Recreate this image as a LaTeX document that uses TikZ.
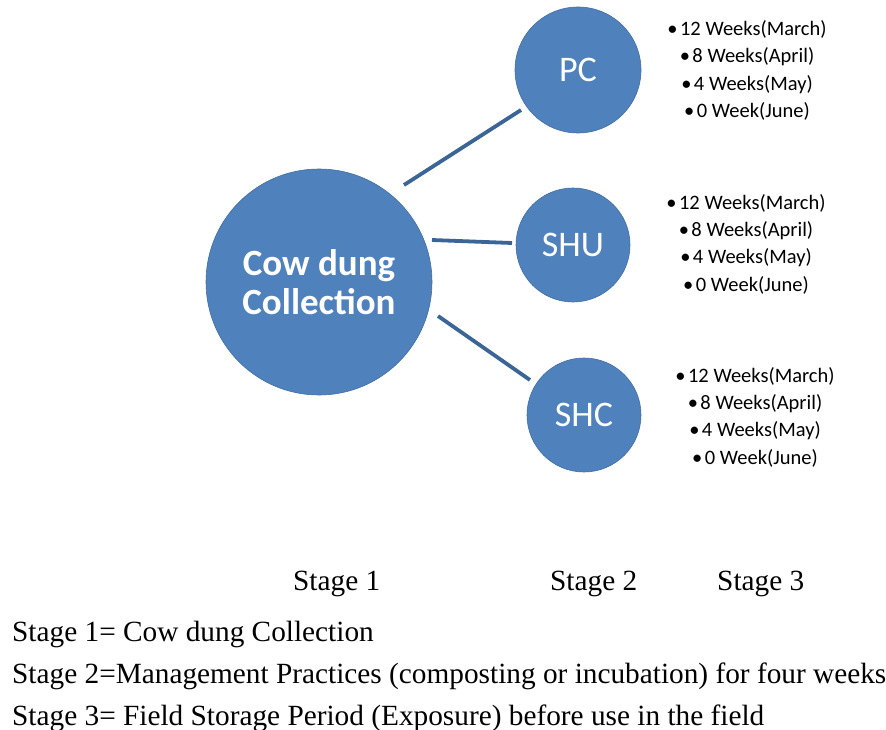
\documentclass[tikz,border=0pt]{standalone}
\usepackage{fontspec}
\setmainfont{Liberation Serif}
\newfontfamily\calib{Carlito}
\definecolor{cblue}{HTML}{4F81BD}
\definecolor{lblue}{HTML}{3B6596}
\newcommand{\bl}{•\kern0.12em}
\begin{document}
\begin{tikzpicture}[x=1pt,y=-1pt,
  bub/.style={circle,fill=cblue,draw=cblue!85!black,line width=0.6pt,inner sep=0pt,text=white,font=\calib\fontsize{36}{38}\selectfont},
  link/.style={draw=lblue,line width=3.8pt},
  lst/.style={align=center,font=\calib\fontsize{20.5}{27.3}\selectfont,inner sep=0pt},
  captxt/.style={anchor=base west,font=\fontsize{29.3}{32}\selectfont,inner sep=0pt}]
\useasboundingbox (0,0) rectangle (886,730);
\node[bub,minimum size=226pt,font=\calib\bfseries\fontsize{37}{39}\selectfont,align=center] (cow) at (319,282) {Cow dung\\Collection};
\node[bub,minimum size=126pt] (pc) at (578,70) {PC};
\node[bub,minimum size=114pt] (shu) at (573,245) {SHU};
\node[bub,minimum size=114pt] (shc) at (584,415) {SHC};
\coordinate (a1) at (404,185); \coordinate (a2) at (521,110);
\coordinate (b1) at (432,240); \coordinate (b2) at (512,243);
\coordinate (c1) at (438,316); \coordinate (c2) at (530,380);
\draw[link] (a1) -- (a2);
\draw[link] (b1) -- (b2);
\draw[link] (c1) -- (c2);
\node[lst] (l1) at (747,70.5) {\bl12 Weeks(March)\\\bl8 Weeks(April)\\\bl4 Weeks(May)\\\bl0 Week(June)};
\node[lst] (l2) at (746,244) {\bl12 Weeks(March)\\\bl8 Weeks(April)\\\bl4 Weeks(May)\\\bl0 Week(June)};
\node[lst] (l3) at (755,417) {\bl12 Weeks(March)\\\bl8 Weeks(April)\\\bl4 Weeks(May)\\\bl0 Week(June)};
\node[captxt] (s1) at (293,590) {Stage 1};
\node[captxt] (s2) at (550,590) {Stage 2};
\node[captxt] (s3) at (717,590) {Stage 3};
\node[captxt] (d1) at (12,641) {Stage 1= Cow dung Collection};
\node[captxt] (d2) at (12,683) {Stage 2=Management Practices (composting or incubation) for four weeks};
\node[captxt] (d3) at (12,725) {Stage 3= Field Storage Period (Exposure) before use in the field};
\end{tikzpicture}
\end{document}
